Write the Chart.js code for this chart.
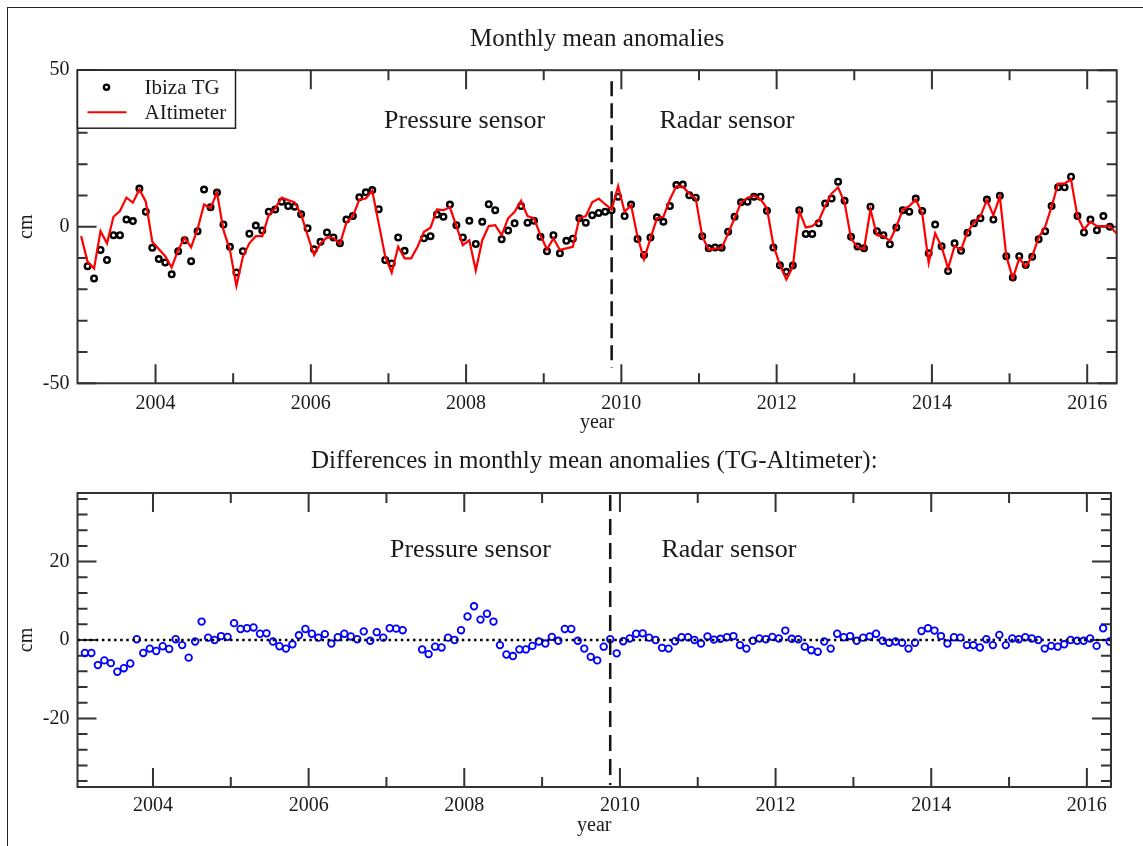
<!DOCTYPE html>
<html lang="en">
<head>
    <meta charset="UTF-8">
    <title>Ibiza TG vs Altimeter - monthly mean anomalies</title>
    <script src="https://cdn.jsdelivr.net/npm/chart.js"></script>
    <style>
        body { margin: 0; background: #fff; }
        .page { position: relative; width: 1143px; height: 846px; overflow: hidden; }
        .edge { position: absolute; left: 7px; top: 7px; width: 1200px; height: 900px;
                border-left: 1.5px solid #222; border-top: 1.5px solid #222; }
        .panel { position: absolute; left: 0; width: 1143px; }
    </style>
</head>
<body>
<div class="page">
    <div class="edge"></div>
    <div class="panel" style="top:0;height:440px"><canvas id="anomalyChart"></canvas></div>
    <div class="panel" style="top:440px;height:406px"><canvas id="diffChart"></canvas></div>
</div>

<script>
    // monthly series, first value = Jan 2003, last = May 2016 (null = no data)
    const startYear = 2003;

    const altimeter = [
        -3.0, -11.2, -13.3, -1.4, -5.3, 3.2, 5.0, 9.3, 7.7, 11.9, 8.0, -4.8,
        -7.1, -9.4, -13.0, -7.4, -3.5, -6.6, -0.7, 7.1, 5.9, 10.9, -1.1, -7.4,
        -18.9, -9.6, -5.3, -3.0, -3.0, 3.7, 5.9, 9.3, 8.5, 7.8, 3.9, -2.7,
        -9.0, -5.3, -3.4, -3.6, -5.5, 1.3, 3.4, 8.7, 9.0, 11.5, 1.0, -9.5,
        -14.7, -6.4, -10.1, -10.1, -6.4, -1.6, -0.3, 5.5, 5.3, 6.2, 0.2, -5.9,
        -4.3, -14.0, -4.3, 0.2, 0.5, -2.7, 2.7, 4.8, 8.3, 3.4, 2.7, -2.7,
        -7.2, -3.7, -7.4, -6.9, -6.4, 2.7, 3.4, 7.8, 9.0, 7.2, 5.5, 13.0,
        4.8, 6.9, -3.2, -10.4, -3.7, 2.7, 3.2, 8.7, 13.0, 12.8, 10.6, 9.0,
        -3.0, -7.4, -6.9, -6.9, -2.1, 2.7, 7.7, 9.3, 9.9, 8.8, 5.9, -5.9,
        -12.2, -16.8, -12.8, 5.0, -0.2, 0.2, 1.9, 6.6, 10.6, 12.6, 7.7, -3.7,
        -6.6, -7.2, 5.5, -2.7, -3.0, -4.5, 0.0, 5.5, 6.6, 8.7, 4.3, -11.5,
        -2.1, -6.4, -13.3, -6.2, -7.4, -1.6, 1.3, 3.4, 8.5, 3.7, 9.6, -9.4,
        -16.5, -10.1, -12.8, -9.4, -3.4, 0.0, 6.4, 13.8, 13.8, 15.1, 3.2, -0.9,
        1.6, 0.2, 0.2, 0.2, -2.1
    ];

    const tideGauge = [
        null, -12.6, -16.5, -7.4, -10.6, -2.7, -2.7, 2.3, 1.8, 12.2, 4.8, -6.7,
        -10.3, -11.4, -15.2, -7.8, -4.3, -11.0, -1.4, 11.9, 6.2, 10.9, 0.7, -6.4,
        -14.6, -7.8, -2.2, 0.4, -1.2, 4.8, 5.5, 8.0, 6.6, 6.4, 4.0, -0.5,
        -7.2, -4.8, -1.8, -3.4, -5.3, 2.3, 3.4, 9.4, 11.0, 11.7, 5.6, -10.6,
        -11.7, -3.4, -7.7, null, null, -3.7, -3.0, 3.9, 3.2, 7.1, 0.5, -3.4,
        1.9, -5.5, 1.6, 7.2, 5.3, -4.0, -1.2, 1.1, 6.6, 1.3, 1.9, -3.2,
        -7.8, -2.7, -8.5, -4.5, -3.8, 2.7, 1.3, 3.7, 4.4, 4.8, 5.3, 9.6,
        3.4, 7.1, -3.9, -9.0, -3.4, 3.0, 1.6, 6.6, 13.3, 13.5, 10.1, 9.3,
        -3.0, -6.9, -6.6, -6.7, -1.6, 3.2, 7.8, 8.0, 9.6, 9.6, 5.1, -6.6,
        -12.3, -14.4, -12.4, 5.3, -2.3, -2.3, 1.1, 7.4, 9.0, 14.4, 8.3, -3.2,
        -6.3, -6.9, 6.4, -1.4, -2.7, -5.6, -0.2, 5.3, 4.8, 9.0, 5.0, -8.5,
        0.7, -6.2, -14.1, -5.3, -7.7, -1.9, 1.1, 2.7, 8.7, 2.3, 9.9, -9.4,
        -16.2, -9.4, -12.2, -9.6, -4.0, -1.4, 6.6, 12.6, 12.6, 16.0, 3.4, -1.8,
        2.3, -1.1, 3.4, 0.0, null
    ];

    const difference = [
        null, -3.3, -3.3, -6.4, -5.2, -5.9, -8.1, -7.2, -6.0, 0.2, -3.3, -2.2,
        -2.8, -1.6, -2.3, 0.2, -1.3, -4.5, -0.4, 4.7, 0.6, 0.0, 1.0, 0.8,
        4.3, 2.8, 3.0, 3.2, 1.6, 1.7, -0.4, -1.6, -2.2, -1.1, 1.2, 2.8,
        1.6, 0.6, 1.5, -0.9, 0.7, 1.6, 0.9, 0.2, 2.2, -0.2, 2.0, 0.6,
        3.0, 2.9, 2.5, null, null, -2.4, -3.6, -1.7, -1.9, 0.6, 0.0, 2.5,
        6.0, 8.6, 5.2, 6.7, 4.7, -1.3, -3.7, -4.1, -2.4, -2.4, -1.5, -0.4,
        -0.9, 0.8, -0.2, 2.8, 2.8, -0.2, -2.2, -4.3, -5.2, -1.7, 0.2, -3.4,
        -0.3, 0.4, 1.6, 1.7, 0.6, 0.0, -2.0, -2.2, -0.3, 0.7, 0.7, 0.0,
        -0.9, 0.9, 0.1, 0.3, 0.7, 1.0, -1.3, -2.2, -0.2, 0.4, 0.2, 0.8,
        0.4, 2.4, 0.3, 0.2, -1.7, -2.6, -3.0, -0.4, -2.2, 1.6, 0.7, 1.0,
        -0.2, 0.6, 0.9, 1.6, -0.2, -0.7, -0.4, -0.7, -2.2, -0.7, 2.3, 3.0,
        2.4, 1.0, -0.9, 0.7, 0.6, -1.3, -1.3, -1.9, 0.2, -1.3, 1.3, -1.3,
        0.4, 0.2, 0.7, 0.4, 0.0, -2.2, -1.5, -1.7, -1.1, 0.0, -0.2, -0.2,
        0.4, -1.5, 3.0, -0.4, null
    ];

    // axis ticks
    const yearTicks = [2004, 2006, 2008, 2010, 2012, 2014, 2016];
    const yearMinor = [2005, 2007, 2009, 2011, 2013, 2015];
    const topYTicks = [-50, 0, 50];
    const topYMinor = [-40, -30, -20, -10, 10, 20, 30, 40];
    const botYTicks = [-20, 0, 20];
    const botYMinor = [-36, -32, -28, -24, -16, -12, -8, -4, 4, 8, 12, 16, 24, 28, 32, 36];
    const sensorChange = 2009.875;

    const serif = '"Liberation Serif", "DejaVu Serif", serif';
    const ink = '#1a1a1a';

    function toPoints(values) {
        return values
            .map((v, i) => ({ x: startYear + (i + 0.5) / 12, y: v }))
            .filter(p => p.y !== null);
    }

    // inward tick marks on all four sides, frame, title, legend and sensor labels
    const framePlugin = {
        id: 'frame',
        beforeDatasetsDraw(chart, args, o) {
            const { ctx, chartArea: a, scales: { x, y } } = chart;
            ctx.save();
            ctx.strokeStyle = '#333';
            ctx.lineWidth = 2;
            ctx.beginPath();
            const vTick = (v, len) => {
                const px = x.getPixelForValue(v);
                ctx.moveTo(px, a.bottom); ctx.lineTo(px, a.bottom - len);
                ctx.moveTo(px, a.top); ctx.lineTo(px, a.top + len);
            };
            const hTick = (v, len) => {
                const py = y.getPixelForValue(v);
                ctx.moveTo(a.left, py); ctx.lineTo(a.left + len, py);
                ctx.moveTo(a.right, py); ctx.lineTo(a.right - len, py);
            };
            yearTicks.forEach(v => vTick(v, 19));
            yearMinor.forEach(v => vTick(v, 10));
            o.yMajor.forEach(v => hTick(v, 19));
            o.yMinor.forEach(v => hTick(v, 10));
            ctx.stroke();
            ctx.restore();
        },
        afterDatasetsDraw(chart, args, o) {
            const { ctx, chartArea: a, scales: { x, y } } = chart;
            ctx.save();
            ctx.strokeStyle = '#333';
            ctx.lineWidth = 2;
            ctx.strokeRect(a.left, a.top, a.right - a.left, a.bottom - a.top);

            ctx.fillStyle = ink;
            ctx.textAlign = 'center';
            ctx.textBaseline = 'middle';
            ctx.font = '25px ' + serif;
            ctx.fillText(o.title, (a.left + a.right) / 2, o.titleY);

            ctx.font = '26px ' + serif;
            o.notes.forEach(n => {
                ctx.fillText(n.text, x.getPixelForValue(n.x), y.getPixelForValue(n.y));
            });

            if (o.legend) {
                const ds = chart.data.datasets;
                const bx = a.left, by = a.top, bw = 158, bh = 58;
                ctx.fillStyle = '#fff';
                ctx.fillRect(bx, by, bw, bh);
                ctx.lineWidth = 1.5;
                ctx.strokeStyle = '#222';
                ctx.strokeRect(bx, by, bw, bh);
                // Ibiza TG marker
                ctx.beginPath();
                ctx.arc(bx + 29, by + 17, 2.6, 0, Math.PI * 2);
                ctx.lineWidth = 2.4;
                ctx.strokeStyle = '#000';
                ctx.stroke();
                // altimeter line
                ctx.beginPath();
                ctx.moveTo(bx + 10, by + 42);
                ctx.lineTo(bx + 49, by + 42);
                ctx.strokeStyle = '#ff0000';
                ctx.lineWidth = 2;
                ctx.stroke();
                ctx.fillStyle = ink;
                ctx.font = '21px ' + serif;
                ctx.textAlign = 'left';
                ctx.fillText(ds[1].label, bx + 67, by + 18);
                ctx.fillText(ds[0].label, bx + 67, by + 43);
            }
            ctx.restore();
        }
    };

    function yearAxis(min, max, height, labelPad, titlePad) {
        return {
            type: 'linear',
            min: min,
            max: max,
            afterBuildTicks: s => { s.ticks = yearTicks.map(v => ({ value: v })); },
            afterFit: s => { s.height = height; },
            grid: { display: false, drawTicks: false },
            border: { display: false },
            ticks: {
                color: ink,
                padding: labelPad,
                font: { family: serif, size: 20 },
                callback: v => String(v)
            },
            title: {
                display: true,
                text: 'year',
                color: ink,
                font: { family: serif, size: 20 },
                padding: { top: 0, bottom: titlePad }
            }
        };
    }

    function cmAxis(min, max, ticks) {
        return {
            type: 'linear',
            min: min,
            max: max,
            afterBuildTicks: s => { s.ticks = ticks.map(v => ({ value: v })); },
            afterFit: s => { s.width = 77.5; },
            grid: { display: false, drawTicks: false },
            border: { display: false },
            ticks: {
                color: ink,
                padding: 8,
                font: { family: serif, size: 20 },
                callback: v => String(v)
            },
            title: {
                display: true,
                text: 'cm',
                color: ink,
                font: { family: serif, size: 20 },
                padding: { top: 15, bottom: 0 }
            }
        };
    }

    // top panel: monthly mean anomalies
    new Chart(document.getElementById('anomalyChart'), {
        type: 'scatter',
        data: {
            datasets: [
                {
                    label: 'AItimeter',
                    type: 'line',
                    data: toPoints(altimeter),
                    borderColor: '#ff0000',
                    borderWidth: 2.2,
                    pointRadius: 0,
                    tension: 0
                },
                {
                    label: 'Ibiza TG',
                    data: toPoints(tideGauge),
                    pointRadius: 2.8,
                    borderWidth: 2.4,
                    borderColor: '#000',
                    backgroundColor: '#fff'
                },
                {
                    label: 'sensor change',
                    type: 'line',
                    data: [{ x: sensorChange, y: 46.5 }, { x: sensorChange, y: -45 }],
                    borderColor: '#111',
                    borderWidth: 2.5,
                    borderDash: [15, 7],
                    pointRadius: 0
                }
            ]
        },
        options: {
            responsive: true,
            maintainAspectRatio: false,
            animation: false,
            events: [],
            layout: { padding: { left: 0, right: 26.3, top: 70.2, bottom: 0 } },
            scales: {
                x: yearAxis(2002.995, 2016.38, 56.7, 8, 5),
                y: cmAxis(-50, 50, topYTicks)
            },
            plugins: {
                legend: { display: false },
                tooltip: { enabled: false },
                title: { display: false },
                frame: {
                    title: 'Monthly mean anomalies',
                    titleY: 39,
                    yMajor: topYTicks,
                    yMinor: topYMinor,
                    legend: true,
                    notes: [
                        { text: 'Pressure sensor', x: 2007.98, y: 33.7 },
                        { text: 'Radar sensor', x: 2011.36, y: 33.7 }
                    ]
                }
            }
        },
        plugins: [framePlugin]
    });

    // bottom panel: TG - altimeter
    new Chart(document.getElementById('diffChart'), {
        type: 'scatter',
        data: {
            datasets: [
                {
                    label: 'zero',
                    type: 'line',
                    data: [{ x: 2003.03, y: 0 }, { x: 2016.31, y: 0 }],
                    borderColor: '#000',
                    borderWidth: 2.5,
                    borderDash: [2.5, 3.6],
                    pointRadius: 0
                },
                {
                    label: 'sensor change',
                    type: 'line',
                    data: [{ x: sensorChange, y: 37 }, { x: sensorChange, y: -37 }],
                    borderColor: '#111',
                    borderWidth: 2.5,
                    borderDash: [16, 8],
                    pointRadius: 0
                },
                {
                    label: 'TG-Altimeter',
                    data: toPoints(difference),
                    pointRadius: 3.3,
                    borderWidth: 1.8,
                    borderColor: '#0000ff',
                    backgroundColor: 'rgba(255,255,255,0)'
                }
            ]
        },
        options: {
            responsive: true,
            maintainAspectRatio: false,
            animation: false,
            events: [],
            layout: { padding: { left: 0, right: 32, top: 53, bottom: 0 } },
            scales: {
                x: yearAxis(2003.03, 2016.31, 59, 7, 8),
                y: cmAxis(-37.5, 37.5, botYTicks)
            },
            plugins: {
                legend: { display: false },
                tooltip: { enabled: false },
                title: { display: false },
                frame: {
                    title: 'Differences in monthly mean anomalies (TG-Altimeter):',
                    titleY: 21,
                    yMajor: botYTicks,
                    yMinor: botYMinor,
                    legend: false,
                    notes: [
                        { text: 'Pressure sensor', x: 2008.08, y: 22.9 },
                        { text: 'Radar sensor', x: 2011.4, y: 22.9 }
                    ]
                }
            }
        },
        plugins: [framePlugin]
    });
</script>
</body>
</html>
